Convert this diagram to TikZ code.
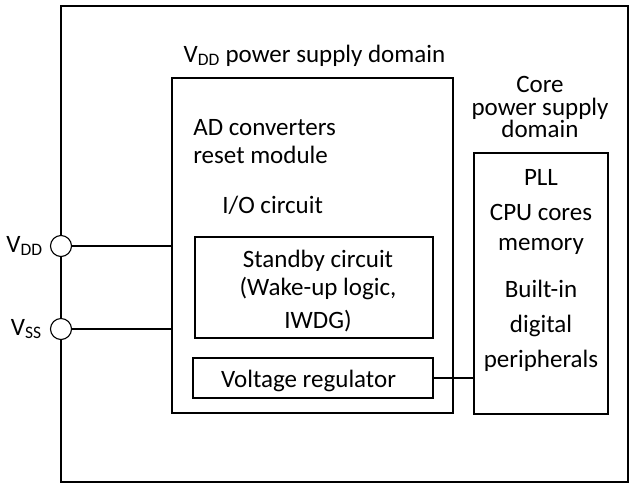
\documentclass[tikz,border=0pt]{standalone}
\usepackage{fontspec}
\setmainfont{Carlito}
\usepackage{tikz}
\usetikzlibrary{positioning}

\begin{document}
\begin{tikzpicture}[x=1pt,y=-1pt,node distance=2cm,semithick]
\tikzstyle{box node}=[rectangle,draw,line width=1.3pt,inner sep=0]
\tikzstyle{pin node}=[circle,draw,fill=white,line width=1.1pt,minimum size=21pt,inner sep=0]
\tikzstyle{text node}=[font=\fontsize{25}{25}\selectfont,inner sep=0,anchor=base,align=center]

\tikzset{
	chip node/.style={rectangle,draw,line width=2pt,inner sep=0,minimum width=567pt,minimum height=476pt},
	wire/.style={line width=1.3pt}
}
\useasboundingbox (0,0) rectangle (631,483);

    \node[chip node] (chip) at (344.5,244) {};
    \node[box node,minimum width=281pt,minimum height=335pt] (vdddom) at (312.5,245.5) {};
    \node[box node,minimum width=238pt,minimum height=101pt] (standby) at (314,287.5) {};
    \node[box node,minimum width=240pt,minimum height=40pt] (reg) at (313,378) {};
    \node[box node,minimum width=134pt,minimum height=261pt] (core) at (541,283.5) {};

    % texts, anchored at the baseline of their last line
    \node[text node] (vddtitle) at (314.5,62) {V\textsubscript{DD} power supply domain};
    \node[text node,anchor=base west] (adc) at (193,135) {AD converters};
    \node[text node,anchor=base west] (reset) at (193,163) {reset module};
    \node[text node,anchor=base west] (io) at (222,213) {I/O circuit};
    \node[text node] (standbytxt) at (318,328) {Standby circuit\\[3pt](Wake-up logic,\\[8pt]IWDG)};
    \node[text node] (regtxt) at (308.5,387) {Voltage regulator};
    \node[text node] (coretitle) at (540,137) {Core\\[-2.5pt]power supply\\[-3pt]domain};
    \node[text node] (coretxt) at (541,367) {PLL\\[10pt]CPU cores\\[5pt]memory\\[22pt]Built-in\\[10pt]digital\\[10pt]peripherals};

    \node[pin node] (vddpin) at (61,246) {};
    \node[pin node] (vsspin) at (61,329) {};
    \node[text node,anchor=east] (vddlbl) [left=7pt of vddpin] {V\textsubscript{DD}};
    \node[text node,anchor=east] (vsslbl) [left=8pt of vsspin] {V\textsubscript{SS}};

    \draw[wire] (vddpin) -- (vddpin -| vdddom.west);
    \draw[wire] (vsspin) -- (vsspin -| vdddom.west);
    \draw[wire] (reg.east) -- (reg.east -| core.west);
\end{tikzpicture}
\end{document}
